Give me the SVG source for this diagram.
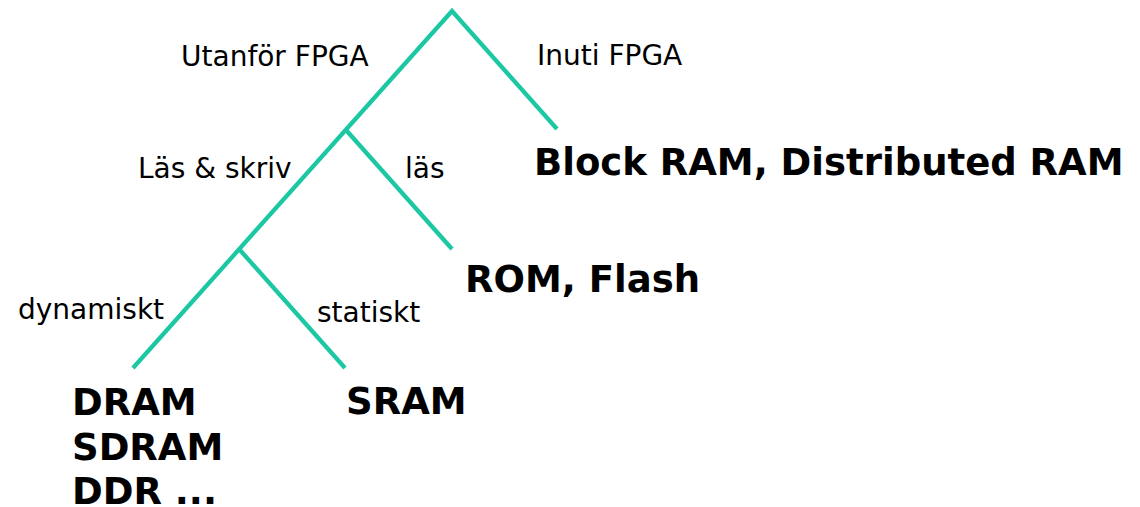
<svg xmlns="http://www.w3.org/2000/svg" width="1140" height="507" viewBox="0 0 1140 507">
  <style>
    .edge { fill: none; stroke: #1cc8a4; stroke-width: 4.3; stroke-linecap: butt; stroke-linejoin: miter; }
    .lbl { font-family: "DejaVu Sans", Verdana, sans-serif; font-size: 28px; fill: #000; }
    .leaf { font-family: "DejaVu Sans", Verdana, sans-serif; font-size: 37px; font-weight: bold; fill: #000; }
  </style>
  <rect width="1140" height="507" fill="#ffffff"/>

  <!-- tree branches -->
  <g id="connectors">
    <polyline class="edge" points="133,368 452,11 557,129"/>
    <line class="edge" x1="346" y1="130" x2="452" y2="249"/>
    <line class="edge" x1="239" y1="249" x2="345" y2="368"/>
  </g>

  <!-- branch labels -->
  <g id="labels">
    <text class="lbl" x="181" y="66">Utanför FPGA</text>
    <text class="lbl" x="537" y="65">Inuti FPGA</text>
    <text class="lbl" x="138" y="178">Läs &amp; skriv</text>
    <text class="lbl" x="405" y="178">läs</text>
    <text class="lbl" x="18" y="319">dynamiskt</text>
    <text class="lbl" x="317" y="322">statiskt</text>
  </g>

  <!-- leaf nodes -->
  <g id="node-inside">
    <text class="leaf" x="534" y="175">Block RAM, Distributed RAM</text>
  </g>
  <g id="node-readonly">
    <text class="leaf" x="465" y="292">ROM, Flash</text>
  </g>
  <g id="node-static">
    <text class="leaf" x="346" y="414">SRAM</text>
  </g>
  <g id="node-dynamic">
    <text class="leaf" x="72" y="415">DRAM</text>
    <text class="leaf" x="72" y="460">SDRAM</text>
    <text class="leaf" x="72" y="504">DDR ...</text>
  </g>
</svg>
